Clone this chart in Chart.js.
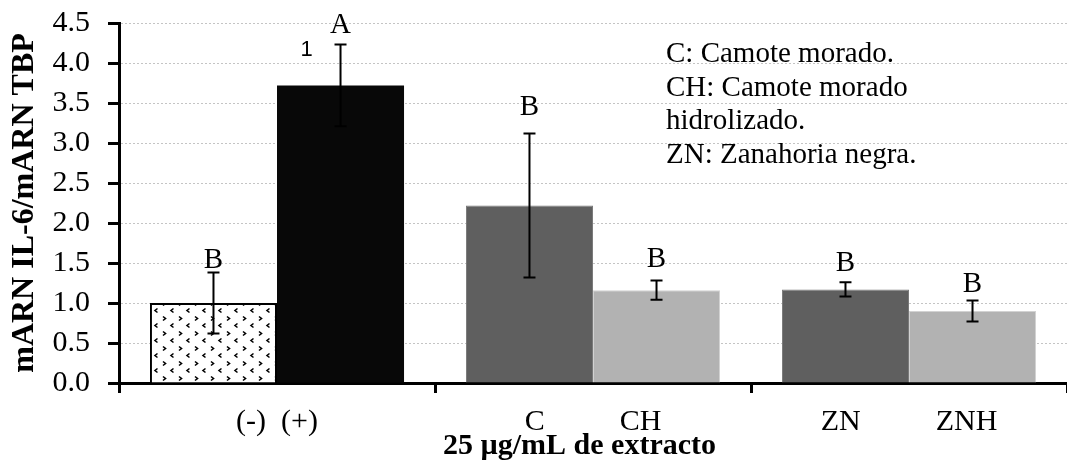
<!DOCTYPE html>
<html>
<head>
<meta charset="utf-8">
<title>IL-6</title>
<script src="https://cdn.jsdelivr.net/npm/chart.js@4.4.1/dist/chart.umd.min.js"></script>
<style>
  html, body { margin: 0; padding: 0; background: #fff; }
  #wrap { width: 1067px; height: 461px; }
</style>
</head>
<body>
<div id="wrap"><canvas id="il6Chart"></canvas></div>
<script>
const groups = ['(-)  (+)', 'C          CH', 'ZN          ZNH'];
const yTickLabels = ['0.0', '0.5', '1.0', '1.5', '2.0', '2.5', '3.0', '3.5', '4.0', '4.5'];

// first bar of each pair: (-), C, ZN
const firstMeans = [1.00, 2.22, 1.17];
const firstErrors = [0.38, 0.90, 0.09];
const firstLetters = ['B', 'B', 'B'];

// second bar of each pair: (+), CH, ZNH
const secondMeans = [3.72, 1.16, 0.90];
const secondErrors = [0.51, 0.12, 0.13];
const secondLetters = ['A', 'B', 'B'];
const secondNotes = ['1', '', ''];

const legendLines = ['C: Camote morado.', 'CH: Camote morado', 'hidrolizado.', 'ZN: Zanahoria negra.'];
const xTitle = '25 \u00b5g/mL de extracto';
const yTitle = 'mARN IL-6/mARN TBP';

const serif = '"Liberation Serif", "Times New Roman", serif';
Chart.defaults.font.family = serif;
Chart.defaults.color = '#000';

// small < > marks on white for the negative control
function chevronPattern() {
    const c = document.createElement('canvas');
    c.width = 16;
    c.height = 15;
    const g = c.getContext('2d');
    g.fillStyle = '#fff';
    g.fillRect(0, 0, 16, 15);
    g.strokeStyle = '#000';
    g.lineWidth = 1.6;
    g.beginPath();
    // '>'
    g.moveTo(3, 1.5);
    g.lineTo(5.5, 3.5);
    g.lineTo(3, 5.5);
    // '<'
    g.moveTo(13.5, 8.5);
    g.lineTo(11, 10.5);
    g.lineTo(13.5, 12.5);
    g.stroke();
    return g.createPattern(c, 'repeat');
}

const annotate = {
    id: 'annotate',
    afterDatasetsDraw(chart, args, opts) {
        const ctx = chart.ctx;
        const y = chart.scales.y;
        const series = [
            { means: firstMeans, errors: firstErrors, letters: firstLetters, notes: null },
            { means: secondMeans, errors: secondErrors, letters: secondLetters, notes: secondNotes }
        ];
        ctx.save();
        series.forEach((s, d) => {
            const bars = chart.getDatasetMeta(d).data;
            bars.forEach((bar, i) => {
                const top = y.getPixelForValue(s.means[i] + s.errors[i]);
                const bot = y.getPixelForValue(s.means[i] - s.errors[i]);
                ctx.strokeStyle = '#000';
                ctx.lineWidth = 2;
                ctx.beginPath();
                ctx.moveTo(bar.x, top);
                ctx.lineTo(bar.x, bot);
                ctx.moveTo(bar.x - 6, top);
                ctx.lineTo(bar.x + 6, top);
                ctx.moveTo(bar.x - 6, bot);
                ctx.lineTo(bar.x + 6, bot);
                ctx.stroke();

                ctx.fillStyle = '#000';
                ctx.textAlign = 'center';
                ctx.textBaseline = 'alphabetic';
                ctx.font = '29px ' + serif;
                ctx.fillText(s.letters[i], bar.x, top - opts.letterGap[d][i]);

                if (s.notes && s.notes[i]) {
                    ctx.font = '22px "Liberation Sans", Arial, sans-serif';
                    ctx.fillText(s.notes[i], bar.x - 34, top + 11);
                }
            });
        });

        // abbreviations box
        ctx.textAlign = 'left';
        ctx.font = '29px ' + serif;
        legendLines.forEach((t, i) => {
            ctx.fillText(t, opts.legendX, opts.legendY + i * 33.7);
        });

        // axis title under the extract groups
        ctx.font = 'bold 30px ' + serif;
        ctx.fillText(xTitle, opts.xTitleX, opts.xTitleY);
        ctx.restore();
    }
};

const ctx = document.getElementById('il6Chart').getContext('2d');
const il6Chart = new Chart(ctx, {
    type: 'bar',
    data: {
        labels: groups,
        datasets: [
            {
                data: firstMeans,
                backgroundColor: [chevronPattern(), '#5f5f5f', '#5f5f5f'],
                borderColor: ['#000', '#7a7a7a', '#7a7a7a'],
                borderWidth: [2, 1, 1],
                categoryPercentage: 0.804,
                barPercentage: 1
            },
            {
                data: secondMeans,
                backgroundColor: ['#080808', '#b2b2b2', '#b2b2b2'],
                borderColor: ['#080808', '#d2d2d2', '#d2d2d2'],
                borderWidth: [0, 1, 1],
                categoryPercentage: 0.804,
                barPercentage: 1
            }
        ]
    },
    options: {
        responsive: true,
        maintainAspectRatio: false,
        animation: false,
        layout: {
            padding: { top: 23, right: 0, bottom: 0, left: 0 }
        },
        scales: {
            x: {
                z: 1,
                offset: true,
                afterFit: scale => { scale.height = 78; },
                grid: {
                    offset: true,
                    drawOnChartArea: false,
                    drawTicks: true,
                    tickLength: 10,
                    tickWidth: 3,
                    tickColor: c => (c.index >= groups.length ? 'rgba(0,0,0,0)' : '#000')
                },
                border: { color: '#000', width: 3 },
                ticks: {
                    padding: 11,
                    maxRotation: 0,
                    autoSkip: false,
                    font: { size: 30 }
                }
            },
            y: {
                min: 0,
                max: 4.5,
                afterFit: scale => {
                    scale.width = 119;
                    scale.paddingTop = 0;
                    scale.paddingBottom = 0;
                },
                ticks: {
                    stepSize: 0.5,
                    autoSkip: false,
                    padding: 18,
                    font: { size: 30 },
                    callback: (v, i) => yTickLabels[i]
                },
                grid: {
                    color: '#c4c4c4',
                    lineWidth: 1,
                    tickLength: 11,
                    tickWidth: 3,
                    tickColor: '#000'
                },
                border: { color: '#000', width: 3, dash: [2, 2] },
                title: {
                    display: true,
                    text: yTitle,
                    font: { size: 32, weight: 'bold' },
                    padding: { top: 6, bottom: 0 }
                }
            }
        },
        plugins: {
            legend: { display: false },
            tooltip: { enabled: false },
            annotate: {
                letterGap: [[5, 18, 11], [12, 14, 9]],
                legendX: 666,
                legendY: 62,
                xTitleX: 443,
                xTitleY: 454
            }
        }
    },
    plugins: [annotate]
});
</script>
</body>
</html>
